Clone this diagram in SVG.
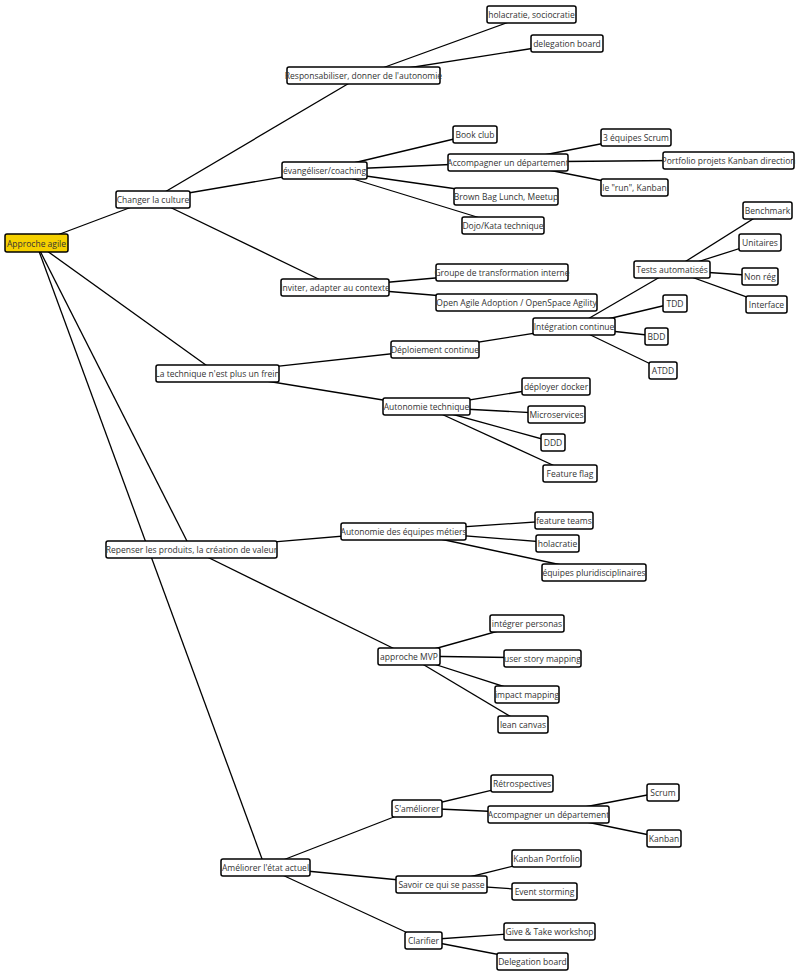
<svg xmlns="http://www.w3.org/2000/svg" width="800" height="977" viewBox="0 0 800 977">
<style>
.n rect{fill:#fff;stroke:#000;stroke-width:1.5}
.r rect{fill:#f5d000}
.n text{font-family:"Open Sans","Liberation Sans",sans-serif;font-size:8.5px;fill:#333;text-anchor:middle;dominant-baseline:central}
#edges line{stroke:#000;stroke-width:1.3}
</style>
<rect width="800" height="977" fill="#fff"/>
<g id="edges">
<line x1="36" y1="243" x2="153" y2="199"/>
<line x1="36" y1="243" x2="217" y2="373"/>
<line x1="36" y1="243" x2="191" y2="549"/>
<line x1="36" y1="243" x2="265" y2="867"/>
<line x1="153" y1="199" x2="363" y2="75"/>
<line x1="153" y1="199" x2="324" y2="170"/>
<line x1="153" y1="199" x2="335" y2="287"/>
<line x1="363" y1="75" x2="531" y2="14"/>
<line x1="363" y1="75" x2="567" y2="43"/>
<line x1="324" y1="170" x2="475" y2="134"/>
<line x1="324" y1="170" x2="508" y2="162"/>
<line x1="324" y1="170" x2="506" y2="196"/>
<line x1="324" y1="170" x2="503" y2="225"/>
<line x1="508" y1="162" x2="636" y2="137"/>
<line x1="508" y1="162" x2="728" y2="160"/>
<line x1="508" y1="162" x2="634" y2="187"/>
<line x1="335" y1="287" x2="502" y2="272"/>
<line x1="335" y1="287" x2="516" y2="302"/>
<line x1="217" y1="373" x2="435" y2="349"/>
<line x1="217" y1="373" x2="426" y2="407"/>
<line x1="435" y1="349" x2="574" y2="327"/>
<line x1="574" y1="327" x2="672" y2="270"/>
<line x1="574" y1="327" x2="675" y2="303"/>
<line x1="574" y1="327" x2="656" y2="336"/>
<line x1="574" y1="327" x2="663" y2="370"/>
<line x1="672" y1="270" x2="767" y2="210"/>
<line x1="672" y1="270" x2="760" y2="242"/>
<line x1="672" y1="270" x2="760" y2="276"/>
<line x1="672" y1="270" x2="766" y2="304"/>
<line x1="426" y1="407" x2="556" y2="386"/>
<line x1="426" y1="407" x2="556" y2="414"/>
<line x1="426" y1="407" x2="553" y2="442"/>
<line x1="426" y1="407" x2="570" y2="473"/>
<line x1="191" y1="549" x2="403" y2="531"/>
<line x1="191" y1="549" x2="409" y2="656"/>
<line x1="403" y1="531" x2="564" y2="520"/>
<line x1="403" y1="531" x2="557" y2="543"/>
<line x1="403" y1="531" x2="594" y2="572"/>
<line x1="409" y1="656" x2="527" y2="623"/>
<line x1="409" y1="656" x2="542" y2="658"/>
<line x1="409" y1="656" x2="527" y2="694"/>
<line x1="409" y1="656" x2="523" y2="724"/>
<line x1="265" y1="867" x2="417" y2="808"/>
<line x1="265" y1="867" x2="441" y2="884"/>
<line x1="265" y1="867" x2="423" y2="940"/>
<line x1="417" y1="808" x2="522" y2="783"/>
<line x1="417" y1="808" x2="548" y2="814"/>
<line x1="548" y1="814" x2="663" y2="792"/>
<line x1="548" y1="814" x2="664" y2="838"/>
<line x1="441" y1="884" x2="546" y2="858"/>
<line x1="441" y1="884" x2="544" y2="891"/>
<line x1="423" y1="940" x2="549" y2="931"/>
<line x1="423" y1="940" x2="532" y2="961"/>
</g>
<g id="n0" class="n r"><rect x="5" y="234" width="63" height="18" rx="2"/><text x="36.5" y="243">Approche agile</text></g>
<g id="n1" class="n"><rect x="116" y="191" width="74" height="17" rx="2"/><text x="153" y="199.5">Changer la culture</text></g>
<g id="n2" class="n"><rect x="287" y="67" width="153" height="17" rx="2"/><text x="363.5" y="75.5">Responsabiliser, donner de l'autonomie</text></g>
<g id="n3" class="n"><rect x="487" y="6" width="89" height="17" rx="2"/><text x="531.5" y="14.5">holacratie, sociocratie</text></g>
<g id="n4" class="n"><rect x="531" y="35" width="72" height="17" rx="2"/><text x="567" y="43.5">delegation board</text></g>
<g id="n5" class="n"><rect x="282" y="162" width="85" height="17" rx="2"/><text x="324.5" y="170.5">évangéliser/coaching</text></g>
<g id="n6" class="n"><rect x="453" y="126" width="44" height="17" rx="2"/><text x="475" y="134.5">Book club</text></g>
<g id="n7" class="n"><rect x="448" y="154" width="120" height="17" rx="2"/><text x="508" y="162.5">Accompagner un département</text></g>
<g id="n8" class="n"><rect x="601" y="129" width="70" height="17" rx="2"/><text x="636" y="137.5">3 équipes Scrum</text></g>
<g id="n9" class="n"><rect x="663" y="152" width="131" height="17" rx="2"/><text x="728.5" y="160.5">Portfolio projets Kanban direction</text></g>
<g id="n10" class="n"><rect x="601" y="179" width="67" height="17" rx="2"/><text x="634.5" y="187.5">le "run", Kanban</text></g>
<g id="n11" class="n"><rect x="454" y="188" width="104" height="17" rx="2"/><text x="506" y="196.5">Brown Bag Lunch, Meetup</text></g>
<g id="n12" class="n"><rect x="462" y="217" width="82" height="17" rx="2"/><text x="503" y="225.5">Dojo/Kata technique</text></g>
<g id="n13" class="n"><rect x="281" y="279" width="108" height="17" rx="2"/><text x="335" y="287.5">Inviter, adapter au contexte</text></g>
<g id="n14" class="n"><rect x="436" y="264" width="132" height="17" rx="2"/><text x="502" y="272.5">Groupe de transformation interne</text></g>
<g id="n15" class="n"><rect x="436" y="294" width="161" height="17" rx="2"/><text x="516.5" y="302.5">Open Agile Adoption / OpenSpace Agility</text></g>
<g id="n16" class="n"><rect x="156" y="365" width="123" height="17" rx="2"/><text x="217.5" y="373.5">La technique n'est plus un frein</text></g>
<g id="n17" class="n"><rect x="391" y="341" width="88" height="17" rx="2"/><text x="435" y="349.5">Déploiement continue</text></g>
<g id="n18" class="n"><rect x="533" y="318" width="82" height="17" rx="2"/><text x="574" y="326.5">Intégration continue</text></g>
<g id="n19" class="n"><rect x="634" y="261" width="76" height="17" rx="2"/><text x="672" y="269.5">Tests automatisés</text></g>
<g id="n20" class="n"><rect x="743" y="202" width="49" height="17" rx="2"/><text x="767.5" y="210.5">Benchmark</text></g>
<g id="n21" class="n"><rect x="739" y="234" width="42" height="17" rx="2"/><text x="760" y="242.5">Unitaires</text></g>
<g id="n22" class="n"><rect x="742" y="268" width="36" height="17" rx="2"/><text x="760" y="276.5">Non rég</text></g>
<g id="n23" class="n"><rect x="746" y="296" width="41" height="17" rx="2"/><text x="766.5" y="304.5">Interface</text></g>
<g id="n24" class="n"><rect x="663" y="295" width="24" height="17" rx="2"/><text x="675" y="303.5">TDD</text></g>
<g id="n25" class="n"><rect x="645" y="328" width="23" height="17" rx="2"/><text x="656.5" y="336.5">BDD</text></g>
<g id="n26" class="n"><rect x="649" y="362" width="28" height="17" rx="2"/><text x="663" y="370.5">ATDD</text></g>
<g id="n27" class="n"><rect x="383" y="398" width="87" height="17" rx="2"/><text x="426.5" y="406.5">Autonomie technique</text></g>
<g id="n28" class="n"><rect x="522" y="378" width="68" height="17" rx="2"/><text x="556" y="386.5">déployer docker</text></g>
<g id="n29" class="n"><rect x="528" y="406" width="57" height="17" rx="2"/><text x="556.5" y="414.5">Microservices</text></g>
<g id="n30" class="n"><rect x="541" y="434" width="24" height="17" rx="2"/><text x="553" y="442.5">DDD</text></g>
<g id="n31" class="n"><rect x="543" y="465" width="54" height="17" rx="2"/><text x="570" y="473.5">Feature flag</text></g>
<g id="n32" class="n"><rect x="106" y="541" width="171" height="17" rx="2"/><text x="191.5" y="549.5">Repenser les produits, la création de valeur</text></g>
<g id="n33" class="n"><rect x="341" y="523" width="125" height="17" rx="2"/><text x="403.5" y="531.5">Autonomie des équipes métiers</text></g>
<g id="n34" class="n"><rect x="535" y="512" width="58" height="17" rx="2"/><text x="564" y="520.5">feature teams</text></g>
<g id="n35" class="n"><rect x="536" y="535" width="43" height="17" rx="2"/><text x="557.5" y="543.5">holacratie</text></g>
<g id="n36" class="n"><rect x="542" y="564" width="104" height="17" rx="2"/><text x="594" y="572.5">équipes pluridisciplinaires</text></g>
<g id="n37" class="n"><rect x="378" y="648" width="62" height="17" rx="2"/><text x="409" y="656.5">approche MVP</text></g>
<g id="n38" class="n"><rect x="490" y="615" width="74" height="17" rx="2"/><text x="527" y="623.5">intégrer personas</text></g>
<g id="n39" class="n"><rect x="504" y="650" width="77" height="17" rx="2"/><text x="542.5" y="658.5">user story mapping</text></g>
<g id="n40" class="n"><rect x="495" y="686" width="64" height="17" rx="2"/><text x="527" y="694.5">impact mapping</text></g>
<g id="n41" class="n"><rect x="498" y="716" width="50" height="17" rx="2"/><text x="523" y="724.5">lean canvas</text></g>
<g id="n42" class="n"><rect x="221" y="859" width="89" height="17" rx="2"/><text x="265.5" y="867.5">Améliorer l'état actuel</text></g>
<g id="n43" class="n"><rect x="392" y="800" width="50" height="17" rx="2"/><text x="417" y="808.5">S'améliorer</text></g>
<g id="n44" class="n"><rect x="491" y="775" width="62" height="17" rx="2"/><text x="522" y="783.5">Rétrospectives</text></g>
<g id="n45" class="n"><rect x="488" y="806" width="121" height="17" rx="2"/><text x="548.5" y="814.5">Accompagner un département</text></g>
<g id="n46" class="n"><rect x="647" y="784" width="32" height="17" rx="2"/><text x="663" y="792.5">Scrum</text></g>
<g id="n47" class="n"><rect x="647" y="830" width="34" height="17" rx="2"/><text x="664" y="838.5">Kanban</text></g>
<g id="n48" class="n"><rect x="396" y="876" width="91" height="17" rx="2"/><text x="441.5" y="884.5">Savoir ce qui se passe</text></g>
<g id="n49" class="n"><rect x="512" y="850" width="69" height="17" rx="2"/><text x="546.5" y="858.5">Kanban Portfolio</text></g>
<g id="n50" class="n"><rect x="512" y="883" width="65" height="17" rx="2"/><text x="544.5" y="891.5">Event storming</text></g>
<g id="n51" class="n"><rect x="405" y="932" width="37" height="17" rx="2"/><text x="423.5" y="940.5">Clarifier</text></g>
<g id="n52" class="n"><rect x="504" y="923" width="91" height="17" rx="2"/><text x="549.5" y="931.5">Give &amp; Take workshop</text></g>
<g id="n53" class="n"><rect x="497" y="953" width="71" height="17" rx="2"/><text x="532.5" y="961.5">Delegation board</text></g>
</svg>
